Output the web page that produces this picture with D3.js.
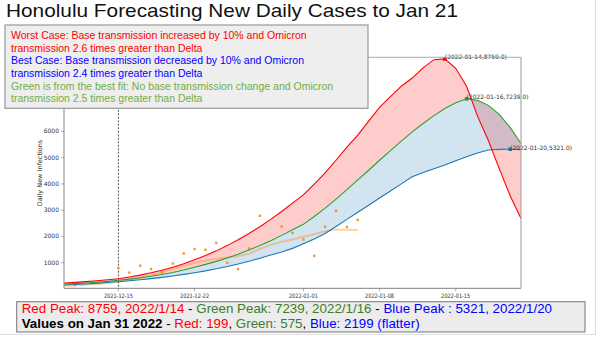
<!DOCTYPE html>
<html><head><meta charset="utf-8">
<script src="https://cdn.jsdelivr.net/npm/d3@7"></script>
<style>body{margin:0;background:#fff}svg{display:block}</style>
</head><body>
<svg id="c" width="600" height="338"></svg>
<script>
// ---- data ----
const startDate = new Date(2021, 11, 10);
const endDate = new Date(2022, 0, 21);
const dates = d3.timeDay.range(startDate, d3.timeDay.offset(endDate, 1));
const worstCase = [228,252,279,310,348,391,455,528,614,713,828,960,1110,1270,1450,1650,1870,2110,2370,2650,2950,3270,3580,3990,4420,4900,5400,5860,6390,6910,7320,7720,8030,8420,8730,8759,8400,7720,6580,5650,4580,3550,2680];
const bestFit   = [180,202,227,255,290,330,375,425,482,550,625,720,830,935,1050,1175,1320,1480,1650,1840,2040,2250,2460,2760,3080,3420,3780,4150,4520,4900,5270,5630,5980,6300,6600,6870,7090,7239,7180,6990,6650,6150,5540];
const bestCase  = [150,168,189,212,243,277,310,348,392,440,494,555,620,690,770,855,950,1055,1170,1290,1410,1545,1720,1900,2110,2380,2650,2920,3190,3460,3730,4000,4270,4430,4580,4720,4880,5030,5180,5290,5315,5321,5305];
const actualDay = [1,5,6,7,8,9,10,11,12,13,14,15,16,17,18,20,21,22,23,24,25,26,27];
const actualVal = [152,800,620,885,760,634,970,1350,1519,1490,1755,1000,760,1540,2785,2375,2133,1888,1260,2367,2975,2360,2633];
const avgVal = [110,135,160,190,230,280,340,420,520,630,760,880,1000,1080,1150,1200,1250,1340,1520,1680,1800,1880,1990,2080,2200,2260,2250,2240];
const peaks = [
  {day: 35, value: 8759, label: "(2022-01-14,8759.0)", color: "#ff0000"},
  {day: 37, value: 7239, label: "(2022-01-16,7239.0)", color: "#2ca02c"},
  {day: 41, value: 5321, label: "(2022-01-20,5321.0)", color: "#1f77b4"}
];
const xTickDates = [new Date(2021,11,15), new Date(2021,11,22), new Date(2022,0,1), new Date(2022,0,8), new Date(2022,0,15)];
const yTicks = [1000,2000,3000,4000,5000,6000];
const title = "Honolulu Forecasting New Daily Cases to Jan 21";
const legendLines = [
  ["Worst Case: Base transmission increased by 10% and Omicron", "#ff0000"],
  ["transmission 2.6 times greater than Delta", "#ff0000"],
  ["Best Case: Base transmission decreased by 10% and Omicron", "#0000ff"],
  ["transmission 2.4 times greater than Delta", "#0000ff"],
  ["Green is from the best fit: No base transmission change and Omicron", "#70ad47"],
  ["transmission 2.5 times greater than Delta", "#70ad47"]
];
const summary1 = [["Red Peak: 8759, 2022/1/14","#ff0000",400],[" - ","#000",400],["Green Peak: 7239, 2022/1/16","#3d7f27",400],[" - ","#000",400],["Blue Peak : 5321, 2022/1/20","#0000ff",400]];
const summary2 = [["Values on Jan 31 2022","#000",700],[" - ","#000",400],["Red: 199","#ff0000",400],[", ","#000",400],["Green: 575","#3d7f27",400],[", ","#000",400],["Blue: 2199 (flatter)","#0000ff",400]];

// ---- chart ----
const svg = d3.select("#c");
const L = 64, R = 521, T = 57.3, B = 288.3;
const x = d3.scaleTime().domain([startDate, endDate]).range([L, R]);
const y = d3.scaleLinear().domain([25, 8820]).range([B, T]);
const xd = i => x(dates[i]);

// thin frame lines of embedded image
svg.append("line").attr("x1",595.5).attr("x2",595.5).attr("y1",0).attr("y2",334).attr("stroke","#ddd");
svg.append("line").attr("x1",0).attr("x2",596).attr("y1",334.5).attr("y2",334.5).attr("stroke","#ddd");

const g = svg.append("g");
// fills
const areaRG = d3.area().x((d,i)=>xd(i)).y0((d,i)=>y(bestFit[i])).y1(d=>y(d));
g.append("path").datum(worstCase).attr("d", areaRG).attr("fill","rgba(255,0,0,0.2)");
const areaGB = d3.area().x((d,i)=>xd(i)).y0((d,i)=>y(bestCase[i])).y1(d=>y(d));
g.append("path").datum(bestFit).attr("d", areaGB).attr("fill","rgba(31,119,180,0.2)");

// dashed vertical line
g.append("line").attr("x1",x(xTickDates[0])).attr("x2",x(xTickDates[0])).attr("y1",T).attr("y2",B)
  .attr("stroke","#555").attr("stroke-width",1).attr("stroke-dasharray","2,1.5");

// average line
const line = d3.line().x((d,i)=>xd(i)).y(d=>y(d));
g.append("path").datum(avgVal).attr("d", line).attr("fill","none").attr("stroke","#ff7f0e").attr("stroke-opacity",0.35).attr("stroke-width",2);

// scatter
g.selectAll("rect.pt").data(actualDay).join("rect").attr("class","pt")
  .attr("x",(d)=>xd(d)-1.2).attr("y",(d,i)=>y(actualVal[i])-1.2).attr("width",2.4).attr("height",2.4)
  .attr("fill","#ff7f0e").attr("opacity",0.85);

// model lines
[[bestCase,"#1f77b4"],[bestFit,"#2ca02c"],[worstCase,"#ff0000"]].forEach(([s,c])=>{
  g.append("path").datum(s).attr("d", line).attr("fill","none").attr("stroke",c).attr("stroke-width",1.1);
});

// peak markers + annotations
peaks.forEach(p=>{
  g.append("rect").attr("x",xd(p.day)-1.8).attr("y",y(p.value)-1.8).attr("width",3.6).attr("height",3.6).attr("fill",p.color);
  g.append("text").attr("x",xd(p.day)).attr("y",y(p.value)+0.5).text(p.label)
    .attr("font-family","DejaVu Sans").attr("font-size",6).attr("fill","#333")
    .attr("textLength",62).attr("lengthAdjust","spacingAndGlyphs");
});

// axes
const ax = svg.append("g").attr("font-family","DejaVu Sans");
ax.append("line").attr("x1",L).attr("x2",R).attr("y1",T).attr("y2",T).attr("stroke","#aaa");
ax.append("line").attr("x1",R).attr("x2",R).attr("y1",T).attr("y2",B).attr("stroke","#aaa").attr("stroke-width",1.2);
ax.append("line").attr("x1",L).attr("x2",L).attr("y1",T).attr("y2",B).attr("stroke","#999").attr("stroke-width",1.2);
ax.append("line").attr("x1",L).attr("x2",R).attr("y1",B).attr("y2",B).attr("stroke","#999").attr("stroke-width",1.2);
yTicks.forEach(t=>{
  ax.append("line").attr("x1",L-3).attr("x2",L).attr("y1",y(t)).attr("y2",y(t)).attr("stroke","#777").attr("stroke-width",0.6);
  ax.append("text").attr("x",L-5).attr("y",y(t)+2).attr("text-anchor","end").attr("font-size",6).attr("fill","#333").text(t);
});
xTickDates.forEach(t=>{
  ax.append("line").attr("x1",x(t)).attr("x2",x(t)).attr("y1",B).attr("y2",B+3).attr("stroke","#777").attr("stroke-width",0.6);
  ax.append("text").attr("x",x(t)).attr("y",B+9.5).attr("text-anchor","middle").attr("font-size",6).attr("fill","#333")
    .attr("textLength",29).attr("lengthAdjust","spacingAndGlyphs").text(d3.timeFormat("%Y-%m-%d")(t));
});
ax.append("text").attr("transform","translate(42,173) rotate(-90)").attr("text-anchor","middle")
  .attr("font-size",6.5).attr("fill","#333").text("Daily New Infections");

// title
svg.append("text").attr("x",6).attr("y",17).attr("font-family","Liberation Sans, Arial").attr("font-size",19)
  .attr("fill","#111").attr("textLength",452).attr("lengthAdjust","spacingAndGlyphs").text(title);

// legend box
const lg = svg.append("g").attr("font-family","Liberation Sans, Arial");
lg.append("rect").attr("x",5).attr("y",25).attr("width",363).attr("height",83.3).attr("fill","#eeeeee").attr("stroke","#999").attr("stroke-width",1.2);
legendLines.forEach(([t,c],i)=>{
  lg.append("text").attr("x",11).attr("y",38.8+i*12.7).attr("font-size",10.5).attr("fill",c).text(t);
});

// summary box
const sb = svg.append("g").attr("font-family","Liberation Sans, Arial");
sb.append("rect").attr("x",16.7).attr("y",301.7).attr("width",568.3).attr("height",30.3).attr("fill","#ececec").attr("stroke","#777").attr("stroke-width",1);
function richLine(parts, yb, width){
  const t = sb.append("text").attr("x",21.7).attr("y",yb).attr("font-size",12);
  parts.forEach(([s,c,w])=>t.append("tspan").attr("fill",c).attr("font-weight",w).text(s));
  const w0 = t.node().getComputedTextLength();
  t.attr("font-size", 12*width/w0);
}
richLine(summary1, 312.8, 531);
richLine(summary2, 328.3, 398.5);
</script>
</body></html>
